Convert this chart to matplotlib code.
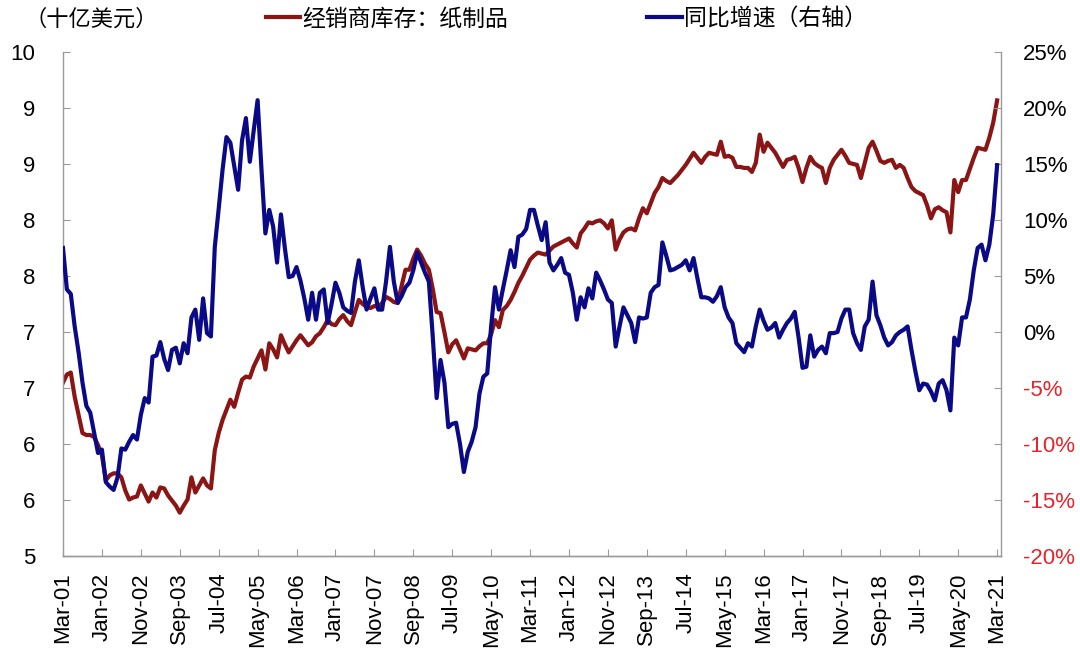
import numpy as np
import matplotlib
matplotlib.use("Agg")
import matplotlib.pyplot as plt

plt.rcParams['font.family'] = ['Liberation Sans', 'Noto Sans CJK SC']

# monthly, Mar-01 .. Mar-21
inventory = [
    6.72, 6.80, 6.82, 6.58, 6.40, 6.22, 6.20, 6.20, 6.18, 6.10, 6.00, 5.75,
    5.80, 5.82, 5.82, 5.78, 5.65, 5.56, 5.58, 5.59, 5.70, 5.62, 5.54, 5.63,
    5.58, 5.68, 5.67, 5.60, 5.55, 5.50, 5.43, 5.50, 5.56, 5.78, 5.63, 5.70,
    5.77, 5.70, 5.67, 6.05, 6.22, 6.35, 6.45, 6.55, 6.48, 6.62, 6.75, 6.78,
    6.77, 6.88, 6.96, 7.04, 6.85, 7.11, 7.05, 6.97, 7.19, 7.10, 7.02, 7.08,
    7.14, 7.19, 7.14, 7.09, 7.12, 7.18, 7.21, 7.27, 7.34, 7.30, 7.29, 7.35,
    7.39, 7.33, 7.29, 7.42, 7.54, 7.50, 7.47, 7.46, 7.48, 7.47, 7.51, 7.57,
    7.55, 7.52, 7.51, 7.68, 7.84, 7.84, 7.95, 8.04, 7.98, 7.90, 7.84, 7.65,
    7.42, 7.41, 7.22, 7.02, 7.10, 7.14, 7.05, 6.96, 7.06, 7.05, 7.04, 7.08,
    7.11, 7.11, 7.20, 7.34, 7.27, 7.44, 7.48, 7.54, 7.62, 7.71, 7.78, 7.86,
    7.94, 7.98, 8.01, 8.00, 7.99, 8.03, 8.07, 8.09, 8.11, 8.13, 8.15, 8.10,
    8.06, 8.20, 8.25, 8.31, 8.30, 8.32, 8.33, 8.30, 8.25, 8.33, 8.04, 8.14,
    8.21, 8.24, 8.25, 8.23, 8.35, 8.45, 8.40, 8.50, 8.60, 8.66, 8.75, 8.72,
    8.70, 8.74, 8.78, 8.83, 8.88, 8.94, 9.00, 8.95, 8.90, 8.96, 9.00, 8.99,
    8.98, 9.11, 8.96, 8.97, 8.95, 8.86, 8.86, 8.85, 8.85, 8.81, 8.90, 9.18,
    9.01, 9.10, 9.05, 9.00, 8.93, 8.86, 8.93, 8.94, 8.96, 8.85, 8.71, 8.85,
    8.96, 8.90, 8.87, 8.85, 8.70, 8.85, 8.93, 8.98, 9.03, 8.97, 8.90, 8.89,
    8.88, 8.75, 8.90, 9.05, 9.11, 9.02, 8.92, 8.90, 8.92, 8.93, 8.85, 8.88,
    8.85, 8.75, 8.66, 8.62, 8.60, 8.58, 8.48, 8.35, 8.44, 8.46, 8.43, 8.41,
    8.21, 8.73, 8.61, 8.73, 8.73, 8.84, 8.95, 9.05, 9.04, 9.03, 9.15, 9.30,
    9.52,
]

yoy = [
    7.5, 3.8, 3.4, 0.5, -1.8, -4.5, -6.6, -7.2, -9.0, -10.8, -10.5, -13.4,
    -13.8, -14.1, -13.0, -10.4, -10.5, -9.8, -9.2, -9.6, -7.4, -5.9, -6.3, -2.2,
    -2.1, -0.9, -2.4, -3.4, -1.6, -1.4, -2.8, -1.0, -1.9, 1.3, 2.0, -0.7,
    3.0, -0.1, -0.4, 7.6, 11.0, 14.5, 17.4, 16.9, 14.8, 12.7, 17.1, 19.1,
    15.2, 18.0, 20.7, 14.5, 8.8, 10.9, 9.4, 6.2, 10.5, 7.5, 4.9, 5.0,
    5.8, 4.6, 3.0, 1.1, 3.5, 1.1, 3.5, 3.8, 0.8, 2.5, 4.4, 3.5,
    2.2, 1.9, 1.7, 4.5, 6.4, 4.0, 2.0, 3.0, 3.9, 2.0, 2.0, 4.5,
    7.6, 4.5, 2.6, 3.2, 4.0, 4.4, 5.5, 7.1, 6.2, 5.3, 4.5, -0.4,
    -5.9, -2.5, -4.5, -8.5, -8.2, -8.1, -10.0, -12.5, -10.7, -9.8, -8.5, -5.5,
    -4.0, -3.7, 0.5, 4.0, 2.0, 3.8, 5.5, 7.3, 5.8, 8.5, 8.7, 9.2,
    10.9, 10.9, 9.5, 8.2, 9.8, 6.2, 5.5, 6.0, 6.6, 5.3, 5.1, 3.5,
    1.1, 3.1, 2.2, 3.9, 3.0, 5.3, 4.6, 3.8, 2.9, 2.6, -1.3, 0.5,
    2.2, 1.5, 0.8, -0.9, 1.3, 1.2, 1.3, 3.5, 4.0, 4.2, 8.0, 6.8,
    5.5, 5.6, 5.8, 6.0, 6.4, 5.5, 6.6, 4.8, 3.1, 3.1, 3.0, 2.7,
    3.2, 4.0, 2.2, 1.3, 0.8, -1.0, -1.4, -1.8, -1.0, -1.3, 0.5, 2.0,
    1.0, 0.2, 0.4, 0.8, -0.5, 0.2, 0.8, 1.2, 1.8, -0.5, -3.2, -3.1,
    -0.3, -2.2, -1.6, -1.3, -1.9, -0.1, -0.1, 0.0, 1.2, 2.0, 2.0, -0.1,
    -1.0, -1.6, 0.5, 1.1, 4.5, 1.5, 0.6, -0.5, -1.2, -0.9, -0.3, 0.0,
    0.2, 0.5, -1.6, -3.5, -5.2, -4.6, -4.7, -5.3, -6.1, -4.6, -4.3, -5.2,
    -7.0, -0.5, -1.2, 1.3, 1.3, 2.9, 5.5, 7.5, 7.8, 6.4, 7.8, 10.5,
    14.9,
]

x_tick_labels = ['Mar-01', 'Jan-02', 'Nov-02', 'Sep-03', 'Jul-04', 'May-05', 'Mar-06',
                 'Jan-07', 'Nov-07', 'Sep-08', 'Jul-09', 'May-10', 'Mar-11', 'Jan-12',
                 'Nov-12', 'Sep-13', 'Jul-14', 'May-15', 'Mar-16', 'Jan-17', 'Nov-17',
                 'Sep-18', 'Jul-19', 'May-20', 'Mar-21']
left_ticks = np.linspace(5, 10, 10)
left_tick_labels = ['5', '6', '6', '7', '7', '8', '8', '9', '9', '10']
right_ticks = [-20, -15, -10, -5, 0, 5, 10, 15, 20, 25]
right_tick_labels = ['-20%', '-15%', '-10%', '-5%', '0%', '5%', '10%', '15%', '20%', '25%']

RED = '#8B1414'
BLUE = '#0A0A86'
AXIS_GREY = '#9A9A9A'
NEG_RED = '#E8242A'

x = np.arange(len(inventory))

fig = plt.figure(figsize=(10.8, 6.69), dpi=100)
ax = fig.add_axes([63 / 1080, 1 - 556 / 669, (1001 - 63) / 1080, (556 - 52) / 669])
ax2 = ax.twinx()

l1, = ax.plot(x, inventory, color=RED, lw=3, solid_joinstyle='round')
l2, = ax2.plot(x, yoy, color=BLUE, lw=3, solid_joinstyle='round')

ax.set_xlim(0, 241)
ax.set_ylim(5, 10)
ax2.set_ylim(-20, 25)

ax.set_xticks(np.arange(0, 241, 10))
ax.set_xticklabels(x_tick_labels, rotation=90, fontsize=16)
ax.set_yticks(left_ticks)
ax.set_yticklabels(left_tick_labels, fontsize=16)
ax2.set_yticks(right_ticks)
ax2.set_yticklabels(right_tick_labels, fontsize=16)
for lab, v in zip(ax2.get_yticklabels(), right_ticks):
    lab.set_color(NEG_RED if v < 0 else 'black')

ax.tick_params(axis='x', direction='in', length=5, color=AXIS_GREY, pad=12)
ax.tick_params(axis='y', direction='in', length=5, color=AXIS_GREY, pad=20)
ax2.tick_params(axis='y', direction='in', length=5, color=AXIS_GREY, pad=16)

for a in (ax, ax2):
    a.spines['top'].set_visible(False)
    for s in ('left', 'right', 'bottom'):
        a.spines[s].set_color(AXIS_GREY)
        a.spines[s].set_linewidth(1)
ax.spines['right'].set_visible(False)
ax2.spines['left'].set_visible(False)

cjk = ['Noto Sans CJK SC', 'DejaVu Sans']
fig.text(24 / 1080, 1 - 19 / 669, '（十亿美元）', fontsize=16, family=cjk,
         va='center', ha='left')
fig.legend([l1, l2], ['经销商库存：纸制品', '同比增速（右轴）'], ncol=2,
           loc='center left', bbox_to_anchor=(266 / 1080, 1 - 19 / 669),
           frameon=False, handlelength=1.5, handletextpad=0.1,
           columnspacing=6.05, borderaxespad=0, borderpad=0,
           prop={'family': cjk, 'size': 16.5})

fig.savefig('out.png', dpi=100)
